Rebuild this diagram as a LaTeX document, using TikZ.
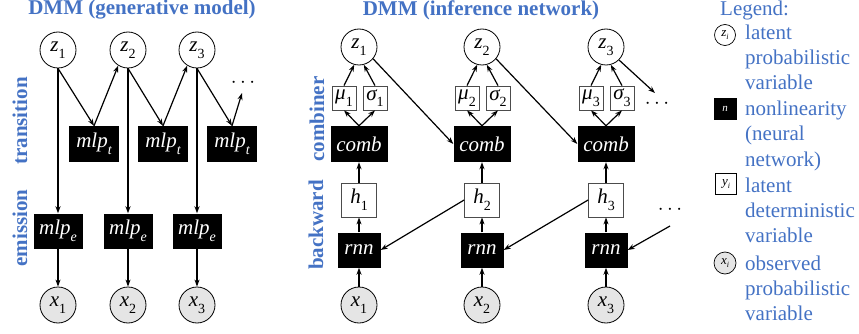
\documentclass[tikz,border=0pt]{standalone}
\usepackage{fontspec}
\setmainfont{Liberation Serif}
\usetikzlibrary{arrows.meta}
\definecolor{lblue}{HTML}{4472C4}
\newcommand{\sbs}[1]{\raisebox{-0.32em}{\fontsize{14}{14}\selectfont #1}}
\newcommand{\ssb}[1]{\raisebox{-0.3em}{\fontsize{8}{8}\selectfont #1}}
\begin{document}
\begin{tikzpicture}[x=1pt,y=-1pt,
  every node/.style={font=\fontsize{21}{25}\selectfont},
  lat/.style={circle,draw=black,line width=0.8pt,fill=white,minimum size=36pt,inner sep=0pt,font=\fontsize{21}{25}\selectfont\itshape},
  obs/.style={lat,fill=black!10},
  nl/.style={rectangle,fill=black,text=white,inner sep=0pt,font=\fontsize{21}{25}\selectfont\itshape},
  det/.style={rectangle,draw=black!70,line width=0.8pt,fill=white,inner sep=0pt,font=\fontsize{21}{25}\selectfont\itshape},
  arr/.style={-{Stealth[length=7pt,width=5pt]},line width=1.2pt},
  ttl/.style={text=lblue,font=\fontsize{21}{25}\selectfont\bfseries},
  side/.style={text=lblue,font=\fontsize{21}{25}\selectfont\bfseries,rotate=90},
  leg/.style={text=lblue,anchor=base west,inner sep=0pt,font=\fontsize{21}{25}\selectfont}]
\useasboundingbox (0,0) rectangle (859,334);

% titles
\node[ttl] (t1) at (142,10) {DMM (generative model)};
\node[ttl] (t2) at (481,10) {DMM (inference network)};
\node[side] (ltr) at (20,121) {transition};
\node[side] (lem) at (20,228) {emission};
\node[side] (lcb) at (317,119) {combiner};
\node[side] (lbw) at (316,225) {backward};

% generative model
\foreach \i/\x in {1/58,2/128,3/197}{
  \node[lat] (gz\i) at (\x,50) {z\sbs{\upshape\i}};
  \node[nl,minimum width=49pt,minimum height=35pt] (ge\i) at (\x,231) {mlp\sbs{e}};
  \node[obs] (gx\i) at (\x,305) {x\sbs{\upshape\i}};
  \draw[arr] (gz\i) -- (ge\i);
  \draw[arr] (ge\i) -- (gx\i);
}
\foreach \i/\x in {1/94,2/163,3/232}{
  \node[nl,minimum width=50pt,minimum height=36pt] (gt\i) at (\x,144) {mlp\sbs{t}};
  \draw[arr] (gz\i.south) -- (gt\i.north);
}
\node (gd) at (243,83) {$\cdots$};
\coordinate (gde) at (242,93);
\draw[arr] (gt1.north) -- (gz2.238);
\draw[arr] (gt2.north) -- (gz3.238);
\draw[arr] (gt3.north) -- (gde);

% inference network
\foreach \i/\x in {1/359,2/482,3/606}{
  \node[lat] (iz\i) at (\x,47) {z\sbs{\upshape\i}};
  \node[det,minimum width=24pt,minimum height=24pt] (mu\i) at (\x-15,98) {μ\sbs{\upshape\i}};
  \node[det,minimum width=24pt,minimum height=24pt] (sg\i) at (\x+16,98) {σ\sbs{\upshape\i}};
  \node[nl,minimum width=57pt,minimum height=36pt] (cb\i) at (\x,144) {comb};
  \node[det,minimum width=35pt,minimum height=34pt] (h\i) at (\x,200) {h\sbs{\upshape\i}};
  \node[nl,minimum width=43pt,minimum height=35pt] (rn\i) at (\x,250) {rnn};
  \node[obs] (ix\i) at (\x,305) {x\sbs{\upshape\i}};
  \draw[arr] (ix\i) -- (rn\i);
  \draw[arr] (rn\i) -- (h\i);
  \draw[arr] (h\i) -- (cb\i);
  \draw[arr] (cb\i.north) -- (mu\i.south);
  \draw[arr] (cb\i.north) -- (sg\i.south);
  \draw[arr] (mu\i.north) -- (iz\i.-105);
  \draw[arr] (sg\i.north) -- (iz\i.-75);
}
\draw[arr] (iz1.-40) -- (cb2.west);
\draw[arr] (iz2.-40) -- (cb3.west);
\node (id1) at (657,104) {$\cdots$};
\coordinate (id1e) at (655,93);
\draw[arr] (iz3.-45) -- (id1e);
\draw[arr] (h2.west) -- (rn1.east);
\draw[arr] (h3.west) -- (rn2.east);
\node (id2) at (670,210) {$\cdots$};
\coordinate (id2s) at (670,226);
\draw[arr] (id2s) -- (rn3.east);

% legend
\node[leg] (lg) at (720,16) {Legend:};
\node[circle,draw=black,line width=0.7pt,minimum size=21pt,inner sep=0pt,font=\fontsize{13}{13}\selectfont\itshape] (lz) at (725,35) {z\ssb{i}};
\node[rectangle,fill=black,text=white,minimum width=23pt,minimum height=22pt,inner sep=0pt,font=\fontsize{11}{11}\selectfont\itshape] (ln) at (725,109) {n};
\node[rectangle,draw=black,line width=0.7pt,fill=white,minimum width=21pt,minimum height=21pt,inner sep=0pt,font=\fontsize{13}{13}\selectfont\itshape] (ly) at (726,184) {y\ssb{i}};
\node[circle,draw=black,line width=0.7pt,fill=black!10,minimum size=22pt,inner sep=0pt,font=\fontsize{13}{13}\selectfont\itshape] (lx) at (725,263) {x\ssb{i}};
\node[leg] (l1) at (745,40) {latent};
\node[leg] (l2) at (745,65) {probabilistic};
\node[leg] (l3) at (745,90) {variable};
\node[leg] (l4) at (745,116) {nonlinearity};
\node[leg] (l5) at (745,141) {(neural};
\node[leg] (l6) at (745,166) {network)};
\node[leg] (l7) at (745,192) {latent};
\node[leg] (l8) at (745,217) {deterministic};
\node[leg] (l9) at (745,242) {variable};
\node[leg] (l10) at (745,270) {observed};
\node[leg] (l11) at (745,295) {probabilistic};
\node[leg] (l12) at (745,320) {variable};
\end{tikzpicture}
\end{document}
